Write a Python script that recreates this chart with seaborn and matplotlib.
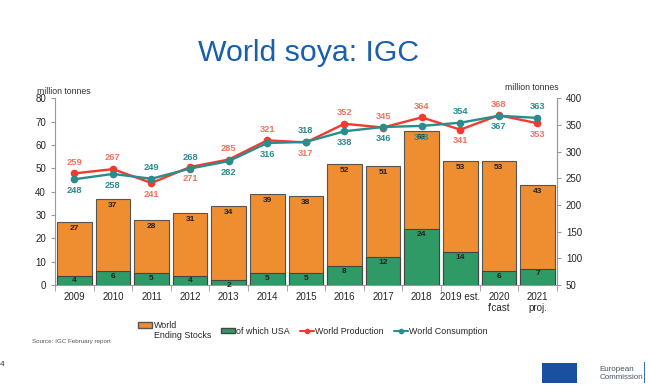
import numpy as np
import pandas as pd
import seaborn as sns
import matplotlib.pyplot as plt
from matplotlib.patches import Patch, Rectangle
from matplotlib.lines import Line2D

years = ["2009", "2010", "2011", "2012", "2013", "2014", "2015", "2016",
         "2017", "2018", "2019 est.", "2020\nf'cast", "2021\nproj."]
stocks = [27, 37, 28, 31, 34, 39, 38, 52, 51, 66, 53, 53, 43]
usa = [4, 6, 5, 4, 2, 5, 5, 8, 12, 24, 14, 6, 7]
production = [259, 267, 241, 271, 285, 321, 317, 352, 345, 364, 341, 368, 353]
consumption = [248, 258, 249, 268, 282, 316, 318, 338, 346, 348, 354, 367, 363]
# which label sits above the point: True -> production above, consumption below
prod_above = [True, True, False, False, True, True, False, True, True, True, False, True, False]

ORANGE = "#EE8E30"
GREEN = "#2F9A66"
RED = "#F23A2E"
RED_TXT = "#F07560"
TEAL = "#2A8C8C"

sns.set_style("white")
plt.rcParams['font.family'] = ['Liberation Sans', 'DejaVu Sans']

df = pd.DataFrame({"year": years, "stocks": stocks, "usa": usa,
                   "production": production, "consumption": consumption})

fig = plt.figure(figsize=(6.5, 3.85), dpi=100)
ax = fig.add_axes([0.0846, 0.26, 0.772, 0.485])

sns.barplot(data=df, x="year", y="stocks", color=ORANGE, width=0.9,
            edgecolor="#555555", linewidth=0.8, saturation=1, ax=ax, zorder=2)
sns.barplot(data=df, x="year", y="usa", color=GREEN, width=0.9,
            edgecolor="#444444", linewidth=0.8, saturation=1, ax=ax, zorder=3)

for i, (s, u) in enumerate(zip(stocks, usa)):
    ax.text(i, s - 1.4, str(s), ha="center", va="top", fontsize=6,
            fontweight="bold", color="#222222", zorder=4)
    ax.text(i, u - 0.7, str(u), ha="center", va="top", fontsize=6,
            fontweight="bold", color="#222222", zorder=4)

ax.set_ylim(0, 80)
ax.set_xlim(-0.5, 12.5)
ax.set_yticks(range(0, 81, 10))
ax.set_xlabel("")
ax.set_ylabel("")
ax.tick_params(axis="y", labelsize=7, length=3, color="#999999", left=True)
ax.tick_params(axis="x", labelsize=7, length=0, pad=5)
ax.set_xticks(np.arange(-0.5, 13, 1), minor=True)
ax.tick_params(axis="x", which="minor", length=4, color="#999999", bottom=True)
ax.spines["top"].set_visible(False)
for sp in ["left", "bottom", "right"]:
    ax.spines[sp].set_color("#999999")
    ax.spines[sp].set_linewidth(0.8)

ax2 = ax.twinx()
ax2.plot(range(len(years)), production, color=RED, lw=1.7, marker="o", ms=4.5, zorder=5)
ax2.plot(range(len(years)), consumption, color=TEAL, lw=1.7, marker="o", ms=4.5, zorder=5)
ax2.set_ylim(50, 400)
ax2.set_yticks(range(50, 401, 50))
ax2.tick_params(axis="y", labelsize=7, length=3, color="#999999")
ax2.spines["top"].set_visible(False)
ax2.spines["right"].set_color("#999999")
ax2.spines["left"].set_visible(False)
ax2.spines["bottom"].set_visible(False)

for i, (p, c, up) in enumerate(zip(production, consumption, prod_above)):
    off = 21
    ax2.text(i, p + (off if up else -off), str(p), ha="center", va="center",
             fontsize=6.7, fontweight="bold", color=RED_TXT, zorder=6)
    ax2.text(i, c + (-off if up else off), str(c), ha="center", va="center",
             fontsize=6.7, fontweight="bold", color=TEAL, zorder=6)

fig.text(0.057, 0.757, "million tonnes", fontsize=6.3, color="#333333")
fig.text(0.777, 0.765, "million tonnes", fontsize=6.3, color="#333333")
fig.text(0.474, 0.862, "World soya: IGC", fontsize=21.8, color="#1A5EB0", ha="center", va="center")

handles = [Patch(facecolor=ORANGE, edgecolor="#555555", label="World\nEnding Stocks"),
           Patch(facecolor=GREEN, edgecolor="#444444", label="of which USA"),
           Line2D([0], [0], color=RED, marker="o", ms=3, lw=1.5, label="World Production"),
           Line2D([0], [0], color=TEAL, marker="o", ms=3, lw=1.5, label="World Consumption")]
leg = fig.legend(handles=handles, loc="center", bbox_to_anchor=(0.4815, 0.142), ncol=4,
                 frameon=False, fontsize=6.4, handlelength=1.6, handleheight=0.55,
                 handletextpad=0.15, columnspacing=1.1, borderaxespad=0)
# lift the first patch so it sits next to the first line of its label
leg.legend_handles[0].set_y(leg.legend_handles[0].get_y() + 4.2)

fig.text(0.05, 0.108, "Source: IGC February report", fontsize=4.5, color="#555555")
fig.text(0.0, 0.05, "4", fontsize=6, color="#333333")

fig.patches.append(Rectangle((0.834, 0.005), 0.054, 0.052, transform=fig.transFigure,
                             facecolor="#1B4FA0", edgecolor="none"))
fig.patches.append(Rectangle((0.99, 0.005), 0.003, 0.055, transform=fig.transFigure,
                             facecolor="#3A6FC0", edgecolor="none"))
fig.text(0.922, 0.031, "European\nCommission", fontsize=5.8, color="#445566", va="center")

fig.savefig("out.png", dpi=100)
